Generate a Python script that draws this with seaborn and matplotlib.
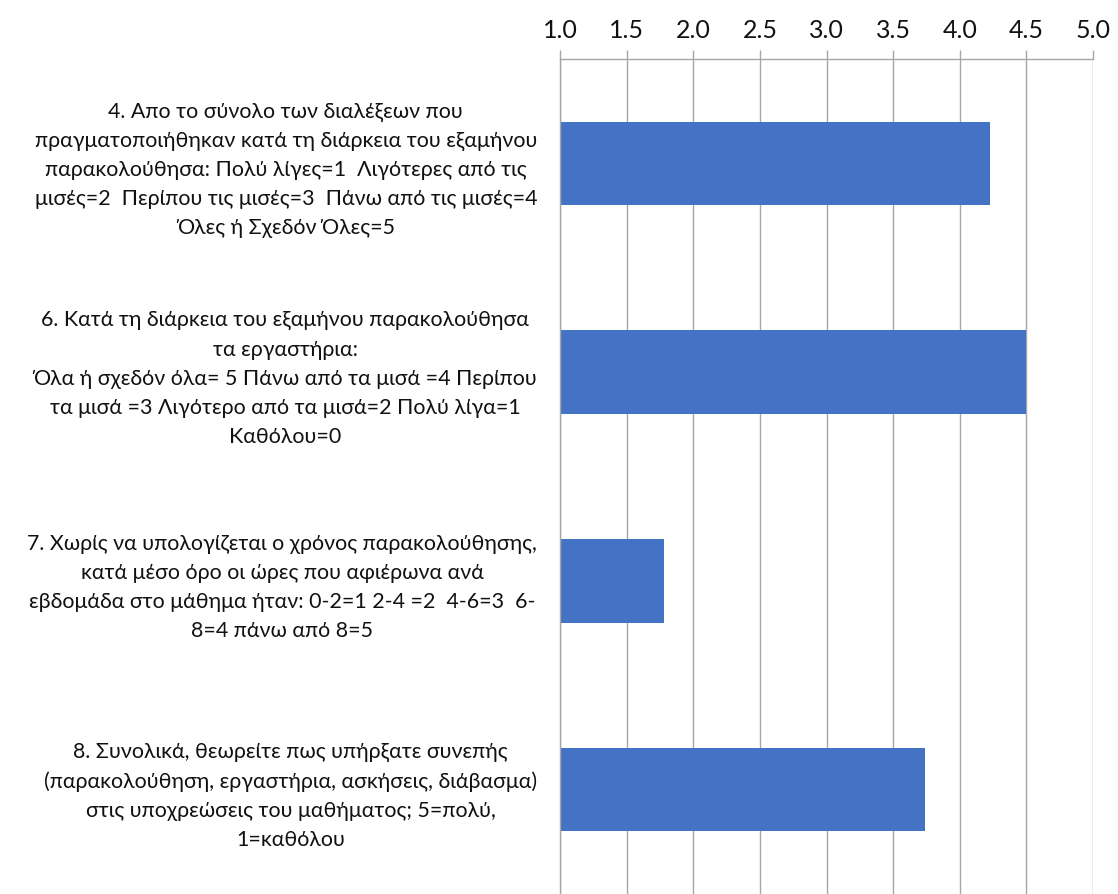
import matplotlib
matplotlib.use("Agg")
import matplotlib.pyplot as plt
import seaborn as sns
import pandas as pd
from matplotlib.ticker import FixedLocator

categories = [
    "4. Απο το σύνολο των διαλέξεων που\nπραγματοποιήθηκαν κατά τη διάρκεια του εξαμήνου\nπαρακολούθησα: Πολύ λίγες=1  Λιγότερες από τις\nμισές=2  Περίπου τις μισές=3  Πάνω από τις μισές=4\nΌλες ή Σχεδόν Όλες=5",
    "6. Κατά τη διάρκεια του εξαμήνου παρακολούθησα\nτα εργαστήρια:\nΌλα ή σχεδόν όλα= 5 Πάνω από τα μισά =4 Περίπου\nτα μισά =3 Λιγότερο από τα μισά=2 Πολύ λίγα=1\nΚαθόλου=0",
    "7. Χωρίς να υπολογίζεται ο χρόνος παρακολούθησης,\nκατά μέσο όρο οι ώρες που αφιέρωνα ανά\nεβδομάδα στο μάθημα ήταν: 0-2=1 2-4 =2  4-6=3  6-\n8=4 πάνω από 8=5",
    "8. Συνολικά, θεωρείτε πως υπήρξατε συνεπής\n(παρακολούθηση, εργαστήρια, ασκήσεις, διάβασμα)\nστις υποχρεώσεις του μαθήματος; 5=πολύ,\n1=καθόλου",
]
values = [4.23, 4.50, 1.78, 3.74]
x_ticks = [1.0, 1.5, 2.0, 2.5, 3.0, 3.5, 4.0, 4.5, 5.0]
x_tick_labels = ["1.0", "1.5", "2.0", "2.5", "3.0", "3.5", "4.0", "4.5", "5.0"]

sns.set_style("white")
plt.rcParams['font.family'] = ['Lato', 'Noto Sans', 'DejaVu Sans']

GRID = "#a6a6a6"
BAR = "#4472c4"

fig = plt.figure(figsize=(11.18, 8.94), dpi=100)
ax = fig.add_axes([560 / 1118, 0.0, (1093 - 560) / 1118, (894 - 59) / 894])

df = pd.DataFrame({"cat": categories, "val": values})
sns.barplot(data=df, x="val", y="cat", orient="h", color=BAR, saturation=1,
            width=0.4, ax=ax, linewidth=0, order=categories)

ax.set_xlim(1.0, 5.0)
ax.set_ylim(3.5, -0.5)
ax.set_xlabel("")
ax.set_ylabel("")

ax.xaxis.tick_top()
ax.set_xticks(x_ticks)
ax.set_xticklabels(x_tick_labels, fontsize=18, color="#111111")
ax.tick_params(axis="x", which="major", direction="out", length=6.5, width=1.0,
               color=GRID, pad=6)
ax.grid(axis="x", color=GRID, linewidth=1.0)
ax.set_axisbelow(True)

ax.set_yticks(range(len(categories)))
ax.set_yticklabels(categories, fontsize=15.4, color="#111111",
                   ha="right", multialignment="center", linespacing=1.57)
ax.tick_params(axis="y", which="major", length=0, pad=16.5)
ax.yaxis.set_minor_locator(FixedLocator([-0.5, 0.5, 1.5, 2.5, 3.5]))
ax.tick_params(axis="y", which="minor", direction="out", length=5, width=1.0, color=GRID)

for s in ["right", "bottom"]:
    ax.spines[s].set_visible(False)
for s in ["top", "left"]:
    ax.spines[s].set_color(GRID)
    ax.spines[s].set_linewidth(1.0)

fig.savefig("out.png", dpi=100)
